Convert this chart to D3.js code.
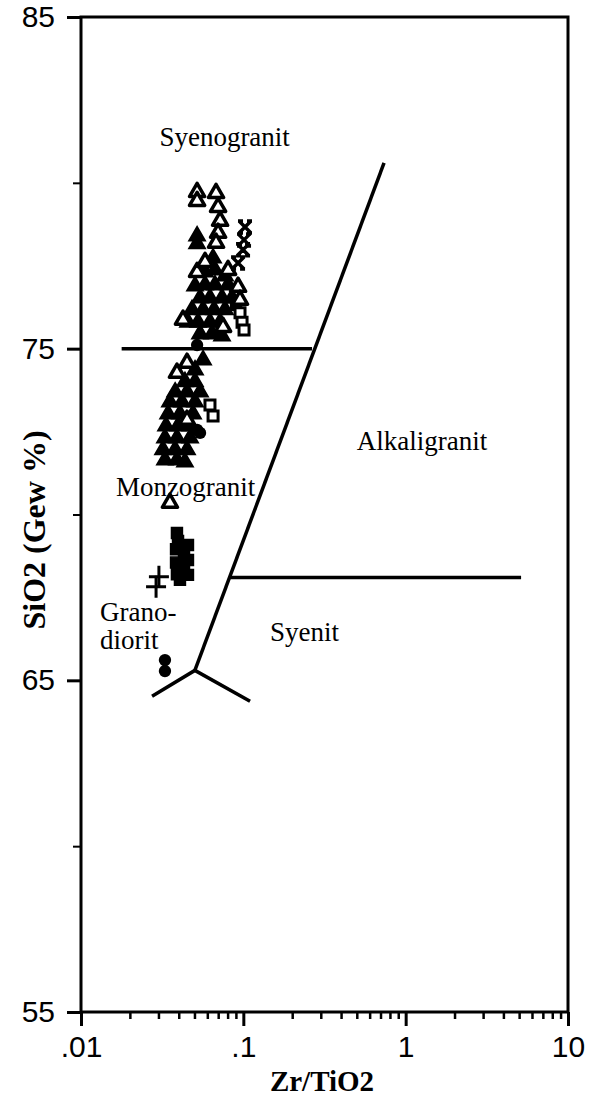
<!DOCTYPE html>
<html>
<head>
  <meta charset="utf-8">
  <title>SiO2 vs Zr/TiO2</title>
  <script src="https://d3js.org/d3.v7.min.js"></script>
  <style>
    body { margin: 0; background: white; }
    .tick text { font-family: 'Liberation Sans', Arial, sans-serif; font-size: 30px; fill: black; }
    .domain { display: none; }
    .field { font-family: 'Liberation Serif', 'Times New Roman', serif; font-size: 27px; fill: black; }
    .title { font-family: 'Liberation Serif', 'Times New Roman', serif; font-weight: bold; fill: black; }
  </style>
</head>
<body>
<svg id="chart" width="604" height="1099"></svg>
<script>
// axis ticks
var xMajor = [0.01, 0.1, 1, 10];
var xLabels = [".01", ".1", "1", "10"];
var yMajor = [55, 65, 75, 85];
var yMinor = [60, 70, 80];

// field boundaries  [Zr/TiO2, SiO2]
var line75 = [[0.0178, 75], [0.265, 75]];
var lineVertex = [[0.0274, 64.52], [0.0503, 65.3], [0.110, 64.37]];
var lineDiagonal = [[0.0503, 65.3], [0.736, 80.6]];
var lineSyenit = [[0.083, 68.1], [5.14, 68.1]];

// field names [text, Zr/TiO2 at left edge, SiO2 at baseline]
var fieldNames = [
  ["Syenogranit", 0.0304, 81.1],
  ["Monzogranit", 0.0164, 70.56],
  ["Alkaligranit", 0.50, 71.95],
  ["Grano-", 0.0131, 66.79],
  ["diorit", 0.0131, 65.95],
  ["Syenit", 0.146, 66.2]
];

// samples [Zr/TiO2, SiO2]
var openTriangles = [
  [0.0519, 79.72], [0.0519, 79.45], [0.0679, 79.69], [0.0699, 79.27], [0.0719, 78.85],
  [0.0699, 78.49], [0.0679, 78.19], [0.0519, 77.31], [0.0928, 76.86], [0.0954, 76.47],
  [0.0425, 75.87], [0.0750, 75.65], [0.0581, 77.61], [0.0805, 77.37], [0.0450, 74.57],
  [0.0390, 74.27], [0.0450, 72.85], [0.0353, 70.35]
];
var filledTriangles = [
  [0.0519, 78.40], [0.0519, 78.16], [0.0651, 77.73], [0.0581, 77.31], [0.0669, 77.37],
  [0.0771, 77.19], [0.0504, 76.89], [0.0581, 76.92], [0.0669, 76.92], [0.0805, 76.92],
  [0.0541, 76.53], [0.0623, 76.53], [0.0739, 76.53], [0.0852, 76.53], [0.0483, 76.17],
  [0.0565, 76.17], [0.0660, 76.17], [0.0771, 76.17], [0.0456, 75.80], [0.0526, 75.80],
  [0.0623, 75.80], [0.0719, 75.80], [0.0541, 75.44], [0.0641, 75.44], [0.0739, 75.38],
  [0.0565, 74.66], [0.0504, 74.36], [0.0437, 74.00], [0.0504, 74.00], [0.0380, 73.69],
  [0.0450, 73.69], [0.0541, 73.69], [0.0353, 73.39], [0.0419, 73.39], [0.0504, 73.39],
  [0.0344, 73.03], [0.0407, 73.03], [0.0490, 73.03], [0.0334, 72.67], [0.0396, 72.67],
  [0.0470, 72.67], [0.0329, 72.31], [0.0390, 72.31], [0.0470, 72.31], [0.0320, 71.95],
  [0.0380, 71.95], [0.0450, 71.95], [0.0329, 71.64], [0.0390, 71.64], [0.0437, 71.58]
];
var asterisks = [[0.1024, 78.67], [0.101, 78.28], [0.0996, 77.98], [0.0928, 77.58]];
var openSquares = [[0.0954, 76.08], [0.0982, 75.80], [0.101, 75.56], [0.0623, 73.30], [0.0651, 72.97]];
var filledSquares = [
  [0.0902, 76.32], [0.0390, 69.44], [0.0396, 69.20], [0.0419, 68.99], [0.0431, 68.75],
  [0.0431, 68.51], [0.0419, 68.27], [0.0407, 68.03], [0.0456, 69.08], [0.0456, 68.63],
  [0.0456, 68.18], [0.0385, 68.95], [0.0385, 68.55], [0.0390, 68.20]
];
var filledCircles = [[0.0519, 75.11], [0.0519, 72.55], [0.0541, 72.46], [0.0329, 65.61], [0.0329, 65.28]];
var pluses = [[0.0302, 68.12], [0.0290, 67.82]];

var svg = d3.select("#chart");
var x = d3.scaleLog().domain([0.01, 10]).range([81, 568]);
var y = d3.scaleLinear().domain([55, 85]).range([1012, 17]);

// frame
svg.append("rect")
  .attr("x", x(0.01)).attr("y", y(85))
  .attr("width", x(10) - x(0.01)).attr("height", y(55) - y(85))
  .attr("fill", "none").attr("stroke", "black").attr("stroke-width", 3);

// x axis, major + minor
var xMinor = [];
[0.01, 0.1, 1].forEach(function(d) {
  for (var k = 2; k <= 9; k++) xMinor.push(d * k);
});
svg.append("g")
  .attr("transform", "translate(0," + y(55) + ")")
  .call(d3.axisBottom(x).tickValues(xMinor).tickSize(7).tickFormat(""))
  .selectAll("line").attr("stroke-width", 2.5);
svg.append("g")
  .attr("transform", "translate(0," + y(55) + ")")
  .call(d3.axisBottom(x).tickValues(xMajor).tickSize(14).tickPadding(10)
    .tickFormat(function(d, i) { return xLabels[i]; }))
  .selectAll("line").attr("stroke-width", 3);

// y axis
svg.append("g")
  .attr("transform", "translate(" + x(0.01) + ",0)")
  .call(d3.axisLeft(y).tickValues(yMinor).tickSize(8).tickFormat(""))
  .selectAll("line").attr("stroke-width", 2);
svg.append("g")
  .attr("transform", "translate(" + x(0.01) + ",0)")
  .call(d3.axisLeft(y).tickValues(yMajor).tickSize(14).tickPadding(12))
  .selectAll("line").attr("stroke-width", 3);

// axis titles
svg.append("text").attr("class", "title")
  .attr("x", 322).attr("y", 1091).attr("text-anchor", "middle")
  .style("font-size", "29px")
  .text("Zr/TiO2");
svg.append("text").attr("class", "title")
  .attr("transform", "translate(45,530) rotate(-90)")
  .attr("text-anchor", "middle")
  .style("font-size", "32px")
  .text("SiO2 (Gew %)");

// boundaries
var line = d3.line().x(function(d) { return x(d[0]); }).y(function(d) { return y(d[1]); });
[line75, lineVertex, lineDiagonal, lineSyenit].forEach(function(pts) {
  svg.append("path").attr("d", line(pts))
    .attr("fill", "none").attr("stroke", "black")
    .attr("stroke-width", 3.5).attr("stroke-linejoin", "miter");
});

// field names
svg.selectAll(".field").data(fieldNames).enter().append("text")
  .attr("class", "field")
  .attr("x", function(d) { return x(d[1]); })
  .attr("y", function(d) { return y(d[2]); })
  .text(function(d) { return d[0]; });

// samples
var pts = svg.append("g");
function pos(d) { return "translate(" + x(d[0]) + "," + y(d[1]) + ")"; }

pts.selectAll(".ftri").data(filledTriangles).enter().append("path")
  .attr("transform", pos)
  .attr("d", d3.symbol().type(d3.symbolTriangle).size(105))
  .attr("fill", "black").attr("stroke", "black").attr("stroke-width", 2);

pts.selectAll(".fsq").data(filledSquares).enter().append("path")
  .attr("transform", pos)
  .attr("d", d3.symbol().type(d3.symbolSquare).size(120))
  .attr("fill", "black").attr("stroke", "black").attr("stroke-width", 1.5);

pts.selectAll(".fci").data(filledCircles).enter().append("path")
  .attr("transform", pos)
  .attr("d", d3.symbol().type(d3.symbolCircle).size(120))
  .attr("fill", "black");

pts.selectAll(".osq").data(openSquares).enter().append("path")
  .attr("transform", pos)
  .attr("d", d3.symbol().type(d3.symbolSquare).size(100))
  .attr("fill", "white").attr("stroke", "black").attr("stroke-width", 3);

pts.selectAll(".otri").data(openTriangles).enter().append("path")
  .attr("transform", pos)
  .attr("d", d3.symbol().type(d3.symbolTriangle).size(100))
  .attr("fill", "white").attr("stroke", "black").attr("stroke-width", 3.5)
  .attr("stroke-linejoin", "round");

// bow-tie like crosses
pts.selectAll(".ast").data(asterisks).enter().append("path")
  .attr("transform", pos)
  .attr("d", "M-6,-6L6,6M-6,6L6,-6M-7,-6L-2,-6M2,-6L7,-6M-7,6L-2,6M2,6L7,6")
  .attr("fill", "none").attr("stroke", "black").attr("stroke-width", 3.5);

pts.selectAll(".plus").data(pluses).enter().append("path")
  .attr("transform", pos)
  .attr("d", "M-10,0L10,0M0,-11L0,11")
  .attr("fill", "none").attr("stroke", "black").attr("stroke-width", 3);
</script>
</body>
</html>
